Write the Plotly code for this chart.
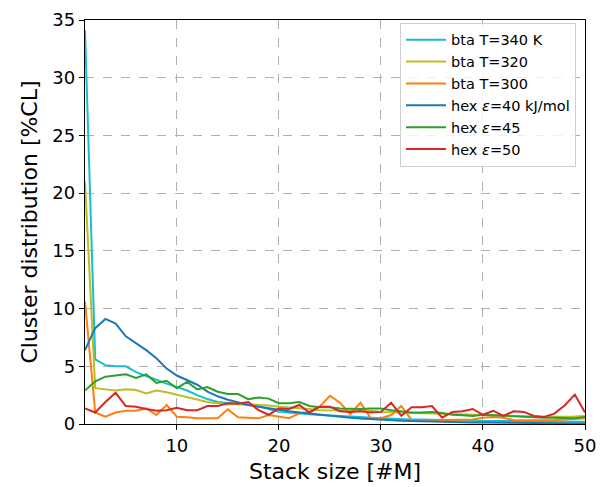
import plotly.graph_objects as go

stack = list(range(1, 51))

bta_340 = [34.1, 5.6, 5.1, 5.0, 5.0, 4.5, 4.16, 3.8, 3.5, 3.2, 2.9, 2.5, 2.16, 1.9, 1.8, 1.75, 1.65, 1.55, 1.3, 1.05,
           1.0, 0.9, 0.85, 0.78, 0.75, 0.7, 0.64, 0.6, 0.55, 0.5, 0.47, 0.44, 0.4, 0.38, 0.35, 0.33, 0.3, 0.3, 0.28, 0.27,
           0.26, 0.25, 0.24, 0.23, 0.22, 0.22, 0.21, 0.2, 0.2, 0.2]
bta_320 = [21.0, 3.1, 3.0, 2.9, 3.0, 2.95, 2.65, 2.9, 2.75, 2.55, 2.3, 2.1, 1.9, 1.8, 1.7, 1.75, 1.7, 1.7, 1.6, 1.5,
           1.45, 1.35, 1.3, 1.2, 1.2, 1.15, 1.15, 1.15, 1.15, 1.05, 1.05, 1.0, 0.95, 0.9, 0.9, 0.88, 0.85, 0.82, 0.8, 0.78,
           0.72, 0.68, 0.66, 0.65, 0.65, 0.63, 0.62, 0.62, 0.65, 0.7]
bta_300 = [10.6, 1.0, 0.63, 1.0, 1.15, 1.15, 1.35, 0.78, 1.65, 0.63, 0.58, 0.49, 0.5, 0.5, 1.27, 0.58, 0.55, 0.49, 0.78, 0.64,
           0.5, 0.92, 1.07, 1.5, 2.45, 1.85, 0.85, 1.85, 0.5, 0.5, 0.78, 1.56, 0.35, 0.33, 0.3, 0.35, 0.38, 0.4, 0.4, 0.55,
           0.6, 0.55, 0.35, 0.33, 0.33, 0.35, 0.35, 0.4, 0.45, 0.5]
hex_40 = [6.4, 8.3, 9.1, 8.7, 7.6, 7.0, 6.4, 5.7, 4.8, 4.2, 3.8, 3.4, 2.8, 2.4, 2.1, 1.85, 1.65, 1.5, 1.35, 1.2,
          1.1, 1.0, 0.9, 0.8, 0.7, 0.62, 0.55, 0.48, 0.42, 0.36, 0.32, 0.28, 0.25, 0.22, 0.2, 0.18, 0.16, 0.14, 0.13, 0.12,
          0.11, 0.1, 0.09, 0.08, 0.08, 0.07, 0.06, 0.06, 0.05, 0.05]
hex_45 = [2.9, 3.7, 4.1, 4.2, 4.3, 4.0, 4.3, 3.55, 3.75, 3.1, 3.65, 3.0, 3.2, 2.8, 2.6, 2.6, 2.15, 2.3, 2.2, 1.8,
          1.8, 1.9, 1.56, 1.45, 1.45, 1.35, 1.3, 1.3, 1.35, 1.35, 1.2, 1.1, 1.0, 1.0, 1.05, 0.95, 0.8, 0.75, 0.7, 0.8,
          0.75, 0.7, 0.7, 0.6, 0.6, 0.55, 0.55, 0.5, 0.5, 0.6]
hex_50 = [1.35, 1.0, 1.9, 2.7, 1.55, 1.5, 1.3, 1.15, 1.2, 1.4, 1.2, 1.2, 1.55, 1.55, 1.8, 1.75, 1.9, 1.2, 0.8, 1.35,
          1.3, 1.65, 1.0, 1.5, 1.5, 1.1, 1.05, 1.1, 1.0, 1.05, 1.85, 0.7, 1.45, 1.45, 1.55, 0.55, 1.05, 1.1, 1.3, 0.8,
          1.15, 0.7, 1.1, 1.05, 0.7, 0.6, 0.9, 1.6, 2.55, 1.0]

series = [
    ("bta T=340 K", bta_340, "#17becf"),
    ("bta T=320", bta_320, "#bcbd22"),
    ("bta T=300", bta_300, "#ff7f0e"),
    ("hex <i>ε</i>=40 kJ/mol", hex_40, "#1f77b4"),
    ("hex <i>ε</i>=45", hex_45, "#2ca02c"),
    ("hex <i>ε</i>=50", hex_50, "#d62728"),
]

x_ticks = [10, 20, 30, 40, 50]
y_ticks = [0, 5, 10, 15, 20, 25, 30, 35]

fig = go.Figure()
for name, vals, col in series:
    fig.add_trace(go.Scatter(x=stack, y=vals, mode="lines", name=name,
                             line=dict(color=col, width=2)))

axis_common = dict(
    showline=True, linecolor="black", linewidth=1.3, mirror=True,
    ticks="outside", ticklen=5, tickwidth=1.3, tickcolor="black",
    showgrid=True, gridcolor="#b0b0b0", griddash="dash", gridwidth=1,
    zeroline=False, tickfont=dict(size=18, color="black"), automargin=False,
)

fig.update_layout(
    width=600, height=487,
    margin=dict(l=85, r=15, t=20, b=63),
    paper_bgcolor="white", plot_bgcolor="white",
    font=dict(family="DejaVu Sans", color="black"),
    xaxis=dict(range=[1, 50], tickvals=x_ticks,
               title=dict(text="Stack size [#M]", font=dict(size=22), standoff=8),
               **axis_common),
    yaxis=dict(range=[0, 35], tickvals=y_ticks,
               title=dict(text="Cluster distribution [%CL]", font=dict(size=22), standoff=8),
               **axis_common),
    legend=dict(x=0.63, y=0.993, xanchor="left", yanchor="top",
                bgcolor="rgba(255,255,255,0.8)", bordercolor="#d0d0d0", borderwidth=1,
                font=dict(size=14.5), tracegroupgap=0, itemwidth=40),
    showlegend=True,
)

fig.write_html("out.html")
